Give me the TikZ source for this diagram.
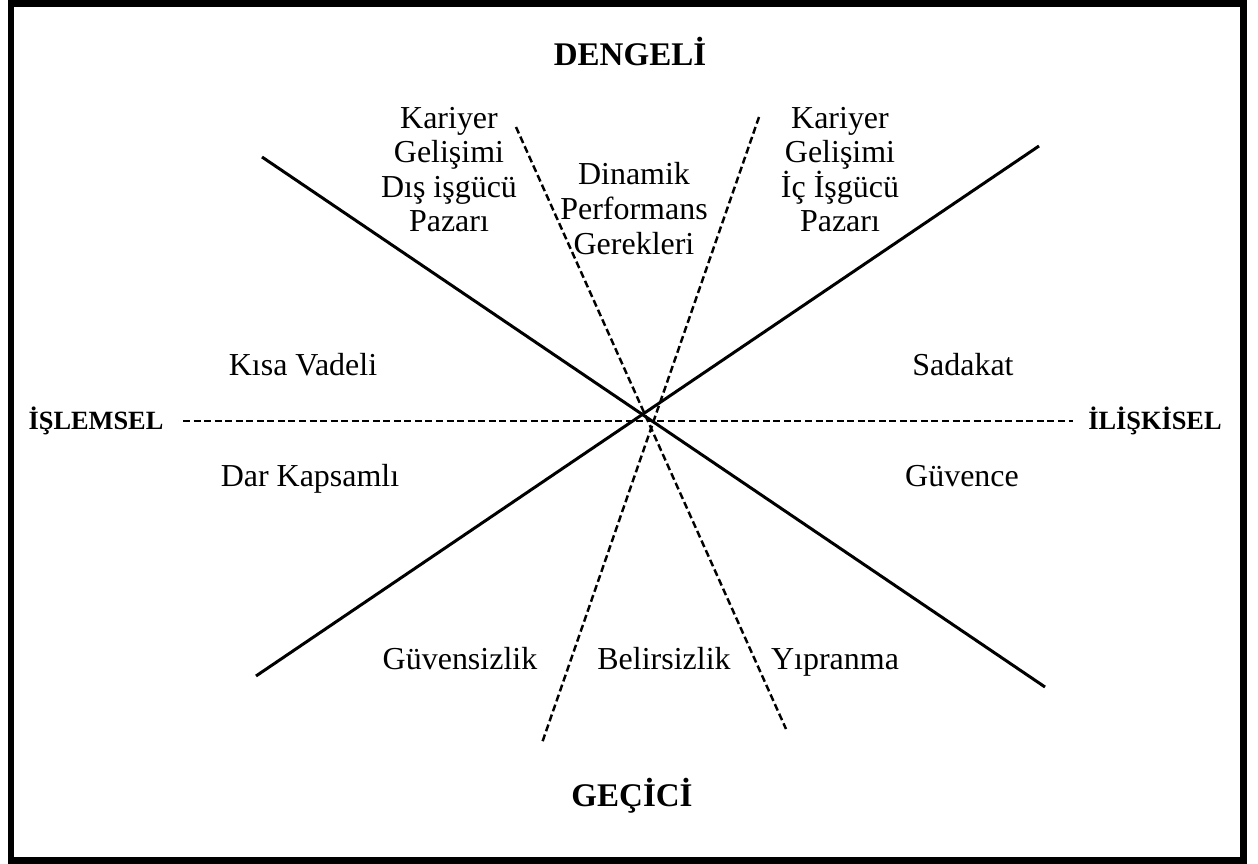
\documentclass[tikz,border=0pt]{standalone}
\usepackage{fontspec}
\setmainfont{Liberation Serif}
\usepackage{tikz}
\usetikzlibrary{positioning}
\tikzset{
    % Pole label (top and bottom)
    polenode/.style={
        inner sep=0pt,
        font=\fontsize{18.8}{20}\selectfont\bfseries
    },
    % Pole label (left and right)
    sidenode/.style={
        polenode,
        font=\fontsize{15}{17}\selectfont\bfseries
    },
    % Text inside a sector
    cellnode/.style={
        inner sep=0pt,
        align=center,
        font=\fontsize{18.2}{19.5}\selectfont
    },
    % Solid axis
    solidaxis/.style={
        line width=1.7pt,
        draw=black
    },
    % Dashed axis
    dashaxis/.style={
        line width=1.4pt,
        draw=black,
        dash pattern=on 4pt off 2pt
    }
}
\begin{document}
\begin{tikzpicture}[x=0.02cm,y=-0.02cm]
    \useasboundingbox (0,0) rectangle (1258,864);
    \draw[line width=0.14cm] (11,4) rectangle (1243,860);

    % poles
    \node[polenode,anchor=base] (dengeli) at (630,66) {DENGELİ};
    \node[polenode,anchor=base] (gecici) at (632,806) {GEÇİCİ};
    \node[sidenode,anchor=base] (islemsel) at (96,430) {İŞLEMSEL};
    \node[sidenode,anchor=base] (iliskisel) at (1155,430) {İLİŞKİSEL};

    % sectors
    \node[cellnode,anchor=north] (disis) at (449,107) {Kariyer\\Gelişimi\\Dış işgücü\\Pazarı};
    \node[cellnode,anchor=north,font=\fontsize{18.2}{19.8}\selectfont] (dinamik) at (634,162) {Dinamik\\Performans\\Gerekleri};
    \node[cellnode,anchor=north] (icis) at (840,107) {Kariyer\\Gelişimi\\İç İşgücü\\Pazarı};
    \node[cellnode,anchor=base] (kisa) at (303,376) {Kısa Vadeli};
    \node[cellnode,anchor=base] (sadakat) at (963,376) {Sadakat};
    \node[cellnode,anchor=base] (dar) at (310,487) {Dar Kapsamlı};
    \node[cellnode,anchor=base] (guvence) at (962,487) {Güvence};
    \node[cellnode,anchor=base] (guvensiz) at (460,669) {Güvensizlik};
    \node[cellnode,anchor=base] (belirsiz) at (664,669) {Belirsizlik};
    \node[cellnode,anchor=base] (yipranma) at (835,669) {Yıpranma};

    % axis ends
    \coordinate (a1) at (262,157);
    \coordinate (a2) at (1045,687);
    \coordinate (b1) at (1039,146);
    \coordinate (b2) at (256,676);
    \coordinate (c1) at (516,127);
    \coordinate (c2) at (786,729);
    \coordinate (d1) at (759,117);
    \coordinate (d2) at (542,743);
    \coordinate (h1) at (183,421);
    \coordinate (h2) at (1073,421);

    \draw[solidaxis] (a1) -- (a2);
    \draw[solidaxis] (b1) -- (b2);
    \draw[dashaxis] (c1) -- (c2);
    \draw[dashaxis] (d1) -- (d2);
    \draw[dashaxis] (h1) -- (h2);
\end{tikzpicture}
\end{document}
